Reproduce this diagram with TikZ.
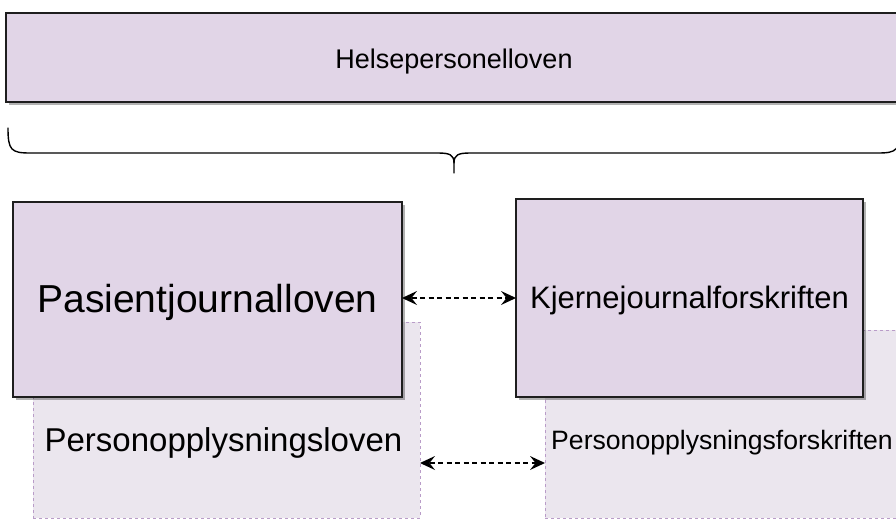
\documentclass[tikz,border=0pt]{standalone}
\usepackage{fontspec}
\setmainfont{Liberation Sans}
\usetikzlibrary{arrows.meta,shadows}
\definecolor{boxfill}{HTML}{E1D5E7}
\definecolor{softfill}{HTML}{EBE6EE}
\definecolor{softline}{HTML}{B99CC8}
\definecolor{edge}{HTML}{1E1E1E}
\tikzset{
  lawbox/.style={rectangle, draw=edge, line width=1.2pt, fill=boxfill,
    inner sep=0pt, outer sep=0pt,
    drop shadow={shadow xshift=3pt, shadow yshift=-3pt, fill=black, opacity=0.3}},
  softbox/.style={rectangle, draw=softline, line width=0.8pt, fill=softfill,
    dash pattern=on 3pt off 3pt, inner sep=0pt, outer sep=0pt},
  reftip/.tip={Stealth[length=15pt,width=14pt,inset=5.5pt,line width=0pt]},
  link/.style={draw=black, line width=1.3pt, dash pattern=on 5pt off 3.5pt,
    reftip-reftip},
  brace/.style={draw=black, line width=1.4pt, line cap=round, line join=round}
}
\begin{document}
\begin{tikzpicture}[x=1pt,y=-1pt]
\clip (0,0) rectangle (896,519);
\fill[white] (0,0) rectangle (896,519);

% background statutes (dashed, pale)
\node[softbox, minimum width=387pt, minimum height=196pt] (pl) at (226.5,420) {};
\node[softbox, minimum width=360pt, minimum height=188pt] (pf) at (725,424) {};
\node (pltext) at (223.5,443) {\fontsize{33pt}{38pt}\selectfont Personopplysningsloven};
\node (pftext) at (722,443) {\fontsize{26.6pt}{30pt}\selectfont Personopplysningsforskriften};

% main statutes
\node[lawbox, minimum width=896pt, minimum height=89pt, text height=28pt, text depth=6pt]
  (hp) at (454,57.5) {\fontsize{27pt}{31pt}\selectfont Helsepersonelloven};
\node[lawbox, minimum width=389pt, minimum height=195pt, text height=34.5pt, text depth=8.2pt]
  (pj) at (207.5,299.5) {\fontsize{39pt}{44pt}\selectfont Pasientjournalloven};
\node[lawbox, minimum width=347pt, minimum height=198pt, text height=26.6pt, text depth=6.5pt]
  (kj) at (689.5,298) {\fontsize{31pt}{35pt}\selectfont Kjernejournalforskriften};

% curly brace under the top box
\coordinate (bl) at (8,128);
\coordinate (bt) at (454,173);
\coordinate (br) at (900,128);
\draw[brace] (bl) .. controls (8,150) and (11,153) .. (30,153) -- (438,153)
  .. controls (450,153) and (454,155) .. (454,163) -- (bt);
\draw[brace] (br) .. controls (900,150) and (897,153) .. (878,153) -- (470,153)
  .. controls (458,153) and (454,155) .. (454,163);

% mutual references
\coordinate (row1) at (0,298);
\coordinate (row2) at (0,463);
\draw[link] (pj.east |- row1) -- (kj.west |- row1);
\draw[link] (pl.east |- row2) -- (pf.west |- row2);
\end{tikzpicture}
\end{document}
